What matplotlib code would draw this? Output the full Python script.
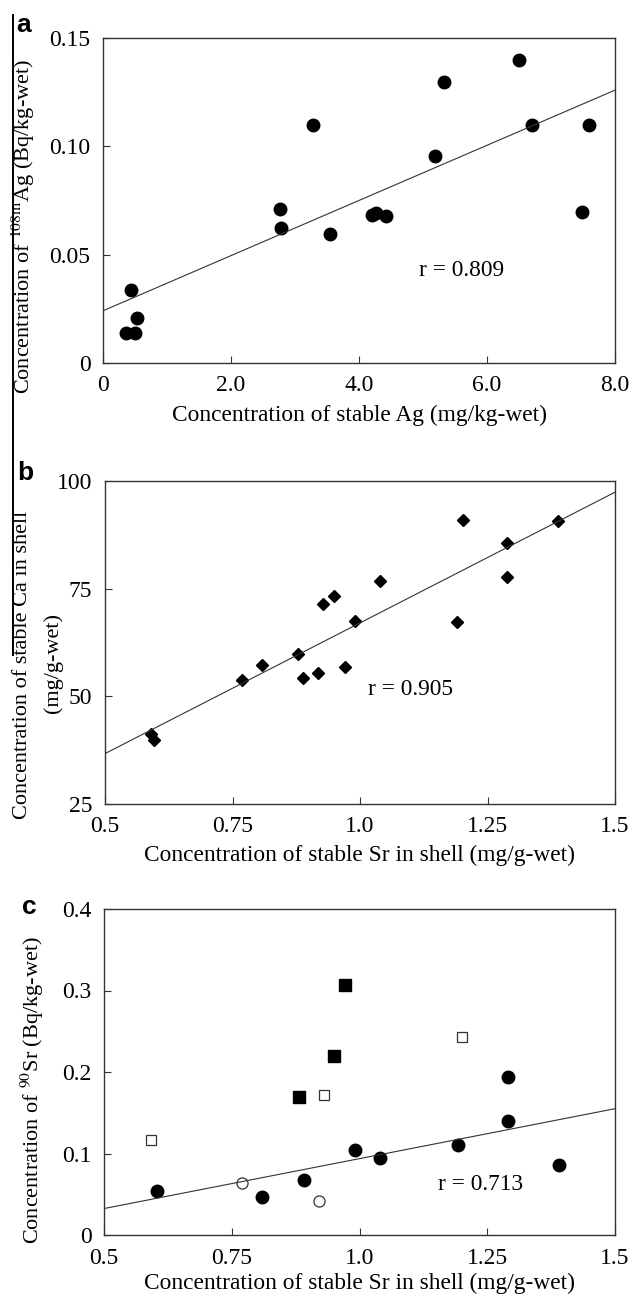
import matplotlib
matplotlib.use('Agg')
import matplotlib.pyplot as plt
from matplotlib.lines import Line2D
import numpy as np

# panel a: stable Ag vs 108mAg
ag_stable = [0.36, 0.50, 0.44, 0.53, 2.76, 2.78, 3.28, 3.54, 4.20, 4.27, 4.42,
             5.19, 5.33, 6.50, 6.70, 7.49, 7.60]
ag_108m = [0.014, 0.0137, 0.0338, 0.0207, 0.0712, 0.0623, 0.1098, 0.0596, 0.0682,
           0.0694, 0.0677, 0.0955, 0.1297, 0.1397, 0.1098, 0.0697, 0.1098]
fit_a = (0.01273, 0.0241)   # slope, intercept

# panel b: stable Sr vs stable Ca in shell
sr_b = [0.590, 0.597, 0.768, 0.808, 0.879, 0.889, 0.918, 0.928, 0.949, 0.970,
        0.990, 1.039, 1.190, 1.201, 1.288, 1.288, 1.388]
ca_b = [41.2, 39.8, 53.8, 57.2, 59.9, 54.3, 55.5, 71.4, 73.3, 56.9,
        67.5, 76.7, 67.2, 90.9, 85.5, 77.6, 90.6]
fit_b = (60.7, 6.35)

# panel c: stable Sr vs 90Sr, four groups
sr_c_fill_circ = [0.603, 0.810, 0.892, 0.991, 1.041, 1.192, 1.291, 1.291, 1.391]
sr90_fill_circ = [0.054, 0.0467, 0.0671, 0.1044, 0.095, 0.111, 0.194, 0.1396, 0.086]
sr_c_open_circ = [0.770, 0.921]
sr90_open_circ = [0.0643, 0.0422]
sr_c_fill_sq = [0.881, 0.951, 0.972]
sr90_fill_sq = [0.169, 0.2194, 0.307]
sr_c_open_sq = [0.592, 0.930, 1.201]
sr90_open_sq = [0.1167, 0.1715, 0.2424]
fit_c = (0.1225, -0.0288)

W, H = 632, 1295
plt.rcParams['font.family'] = ['Liberation Serif', 'DejaVu Serif']
plt.rcParams['mathtext.fontset'] = 'stix'
TICK = 17
LAB = 16.8
YLAB = 16
TXT = 16.8
FRAME = '#333333'


def px_axes(left, top, right, bottom):
    return [left / W, 1 - bottom / H, (right - left) / W, (bottom - top) / H]


def style(ax):
    for s in ax.spines.values():
        s.set_linewidth(1.0)
        s.set_color(FRAME)
    ax.tick_params(direction='in', length=5, width=0.8, color=FRAME,
                   labelsize=TICK, pad=9, top=False, right=False)


def fig_text(x, y, s, **kw):
    fig.text(x / W, 1 - y / H, s, **kw)


fig = plt.figure(figsize=(W / 100, H / 100), dpi=100)

# ---- a ----
ax = fig.add_axes(px_axes(103, 38, 615, 363))
ax.plot(ag_stable, ag_108m, 'o', color='black', ms=9)
xs = np.array([0, 8])
ax.plot(xs, fit_a[0] * xs + fit_a[1], color='#333333', lw=0.8)
ax.set_xlim(0, 8)
ax.set_ylim(0, 0.15)
ax.set_xticks([0, 2, 4, 6, 8])
ax.set_xticklabels(['0', '2.0', '4.0', '6.0', '8.0'])
ax.set_yticks([0, 0.05, 0.10, 0.15])
ax.set_yticklabels(['0', '0.05', '0.10', '0.15'])
ax.text(4.94, 0.0425, 'r = 0.809', fontsize=TXT, va='center')
style(ax)
fig_text(360, 415, 'Concentration of stable Ag (mg/kg-wet)', fontsize=LAB,
         ha='center', va='center')
fig_text(23, 226, r'Concentration of $^{\mathrm{108m}}$Ag (Bq/kg-wet)', fontsize=YLAB,
         ha='center', va='center', rotation=90)

# ---- b ----
ax = fig.add_axes(px_axes(105, 481, 615, 804))
ax.plot(sr_b, ca_b, 'D', color='black', ms=6.5)
xs = np.array([0.5, 1.5])
ax.plot(xs, fit_b[0] * xs + fit_b[1], color='#333333', lw=0.8)
ax.set_xlim(0.5, 1.5)
ax.set_ylim(25, 100)
ax.set_xticks([0.5, 0.75, 1.0, 1.25, 1.5])
ax.set_xticklabels(['0.5', '0.75', '1.0', '1.25', '1.5'])
ax.set_yticks([25, 50, 75, 100])
ax.text(1.015, 51.6, 'r = 0.905', fontsize=TXT, va='center')
style(ax)
fig_text(360, 855, 'Concentration of stable Sr in shell (mg/g-wet)', fontsize=LAB,
         ha='center', va='center')
fig_text(23, 665, 'Concentration of stable Ca in shell', fontsize=YLAB,
         ha='center', va='center', rotation=90)
fig_text(53, 663, '(mg/g-wet)', fontsize=YLAB, ha='center', va='center', rotation=90)

# ---- c ----
ax = fig.add_axes(px_axes(104, 909, 615, 1235))
ax.plot(sr_c_fill_circ, sr90_fill_circ, 'o', color='black', ms=9)
ax.plot(sr_c_open_circ, sr90_open_circ, 'o', mfc='white', mec='#333333', mew=0.9, ms=8)
ax.plot(sr_c_fill_sq, sr90_fill_sq, 's', color='black', ms=8.5)
ax.plot(sr_c_open_sq, sr90_open_sq, 's', mfc='white', mec='#333333', mew=0.9, ms=7.5)
xs = np.array([0.5, 1.5])
ax.plot(xs, fit_c[0] * xs + fit_c[1], color='#333333', lw=0.8)
ax.set_xlim(0.5, 1.5)
ax.set_ylim(0, 0.4)
ax.set_xticks([0.5, 0.75, 1.0, 1.25, 1.5])
ax.set_xticklabels(['0.5', '0.75', '1.0', '1.25', '1.5'])
ax.set_yticks([0, 0.1, 0.2, 0.3, 0.4])
ax.set_yticklabels(['0', '0.1', '0.2', '0.3', '0.4'])
ax.text(1.153, 0.0622, 'r = 0.713', fontsize=TXT, va='center')
style(ax)
fig_text(360, 1283, 'Concentration of stable Sr in shell (mg/g-wet)', fontsize=LAB,
         ha='center', va='center')
fig_text(32, 1090, r'Concentration of $^{\mathrm{90}}$Sr (Bq/kg-wet)', fontsize=YLAB,
         ha='center', va='center', rotation=90)

# panel letters
for letter, x, y in [('a', 16, 25), ('b', 17, 473), ('c', 22, 907)]:
    fig_text(x, y, letter, fontsize=19, fontweight='bold',
             family='Liberation Sans', va='center')

# page edge line on the left
fig.add_artist(Line2D([13 / W, 13 / W], [1 - 15 / H, 1 - 655 / H],
                      transform=fig.transFigure, color='black', lw=1.4))

fig.savefig('out.png', dpi=100)
